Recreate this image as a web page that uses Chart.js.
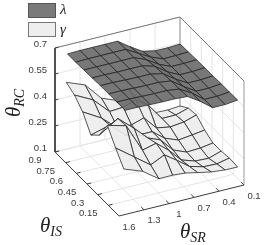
<!DOCTYPE html>
<html><head><meta charset="utf-8">
<style>html,body{margin:0;padding:0;background:#fff}canvas{display:block}</style>
<script src="https://cdn.jsdelivr.net/npm/chart.js@4"></script>
</head><body><canvas id="c" width="269" height="245"></canvas>
<script>
// data
const lambdaSR=[1.45,1.3,1.15,1.0,0.85,0.7,0.55,0.4,0.25,0.1];
const gammaSR=[1.465,1.24,1.045,0.88,0.73,0.58,0.415,0.25,0.1];
const thetaIS=[0.09,0.206,0.321,0.437,0.553,0.669,0.784,0.9];
const ticksSR=[1.6,1.3,1,0.7,0.4,0.1];
const ticksIS=[0.9,0.75,0.6,0.45,0.3,0.15];
const ticksRC=[0.7,0.55,0.4,0.25,0.1];
const lambda0=[.655,.655,.652,.65,.65,.645,.60,.545,.545,.553];
const lambda1=[.655,.655,.652,.65,.65,.64,.60,.545,.545,.552];
const lambda2=[.655,.655,.652,.65,.65,.64,.59,.545,.545,.552];
const lambda3=[.655,.655,.652,.65,.65,.635,.585,.545,.545,.55];
const lambda4=[.652,.652,.65,.65,.65,.63,.58,.545,.545,.55];
const lambda5=[.65,.65,.65,.65,.65,.62,.575,.545,.545,.548];
const lambda6=[.648,.65,.65,.65,.65,.61,.57,.542,.543,.546];
const lambda7=[.648,.65,.65,.65,.65,.60,.556,.541,.54,.544];
const gamma0=[.318,.278,.212,.213,.207,.192,.176,.168,.167];
const gamma1=[.392,.313,.244,.282,.233,.18,.158,.155,.171];
const gamma2=[.475,.446,.282,.302,.244,.17,.144,.14,.164];
const gamma3=[.371,.44,.36,.285,.256,.18,.148,.152,.163];
const gamma4=[.324,.354,.273,.256,.256,.2,.17,.18,.19];
const gamma5=[.41,.348,.267,.265,.288,.212,.198,.207,.23];
const gamma6=[.46,.405,.315,.32,.345,.296,.2,.2,.222];
const gamma7=[.486,.444,.345,.313,.365,.278,.184,.181,.187];
const lambdaRows=[lambda0,lambda1,lambda2,lambda3,lambda4,lambda5,lambda6,lambda7];
const gammaRows=[gamma0,gamma1,gamma2,gamma3,gamma4,gamma5,gamma6,gamma7];

// view (axes box projection)
const P=(sr,is,z)=>{const u=(1.6-sr)/1.5,v=is/0.9,w=(z-0.1)/0.6;
  return {x:119+125*u-64*v,y:216-31*u-64*v-104*w};};
const SRA=1.6,SRB=0.1,ISA=0,ISB=0.9,ZA=0.1,ZB=0.7;
const ds=[];
const line=(pts,color,width)=>ds.push({data:pts,showLine:true,fill:false,borderColor:color,borderWidth:width,pointRadius:0,tension:0});
const GRID='#e4e4e4',EDGE='#3c3c3c',BOX='#777';
// grid: floor + walls
ticksSR.forEach(s=>{line([P(s,ISA,ZA),P(s,ISB,ZA),P(s,ISB,ZB)],GRID,1);});
ticksIS.forEach(i=>{line([P(SRA,i,ZA),P(SRB,i,ZA),P(SRB,i,ZB)],GRID,1);});
ticksRC.forEach(z=>{line([P(SRA,ISB,z),P(SRB,ISB,z),P(SRB,ISA,z)],GRID,1);});
// box
line([P(SRA,ISB,ZB),P(SRB,ISB,ZB),P(SRB,ISA,ZB)],BOX,1);
line([P(SRB,ISB,ZA),P(SRB,ISB,ZB)],'#999',1);
line([P(SRB,ISA,ZA),P(SRB,ISA,ZB)],'#999',1);
// axes
line([P(SRA,ISB,ZB),P(SRA,ISB,ZA),P(SRA,ISA,ZA),P(SRB,ISA,ZA)],EDGE,1);
// ticks
ticksSR.forEach(s=>line([P(s,ISA,ZA),P(s,ISA+0.04,ZA)],EDGE,1));
ticksIS.forEach(i=>line([P(SRA,i,ZA),P(SRA-0.05,i,ZA)],EDGE,1));
ticksRC.forEach(z=>line([P(SRA,ISB,z),P(SRA-0.04,ISB,z)],EDGE,1));
// surfaces, back to front
const surf=(xs,rows,fill)=>{
  const q=[];
  for(let j=0;j<thetaIS.length-1;j++)for(let i=0;i<xs.length-1;i++)q.push([i,j]);
  q.sort((a,b)=>(b[0]+b[1])-(a[0]+a[1]));
  q.forEach(([i,j])=>{
    const pts=[[i,j],[i+1,j],[i+1,j+1],[i,j+1],[i,j]].map(([a,b])=>P(xs[a],thetaIS[b],rows[b][a]));
    ds.push({data:pts,showLine:true,fill:'shape',backgroundColor:fill,borderColor:'rgba(35,35,35,0.85)',borderWidth:0.9,pointRadius:0,tension:0});
  });
};
surf(gammaSR,gammaRows,'rgba(236,236,236,0.9)');
surf(lambdaSR,lambdaRows,'rgba(105,105,105,0.9)');
ds.forEach((d,k)=>d.order=ds.length-k);

const labels={id:'labels',afterDraw(ch){
  const c=ch.ctx,X=ch.scales.x,Y=ch.scales.y;
  const px=p=>({x:X.getPixelForValue(p.x),y:Y.getPixelForValue(p.y)});
  c.save();
  c.fillStyle='#3a3a3a';c.font='9.5px "Liberation Sans"';c.textBaseline='middle';
  c.textAlign='right';
  ticksRC.forEach(z=>{const p=px(P(SRA,ISB,z));c.fillText(String(z),p.x-8,p.y-4);});
  c.textAlign='center';
  ticksIS.forEach(i=>{const p=px(P(SRA,i,ZA));c.fillText(String(i),p.x-20,p.y+8.5);});
  ticksSR.forEach(s=>{const p=px(P(s,ISA,ZA));c.fillText(String(s),p.x+10,p.y+11);});
  // legend
  c.lineWidth=1;
  c.fillStyle='#7a7a7a';c.strokeStyle='#555';c.fillRect(28.5,3.5,27,14);c.strokeRect(28.5,3.5,27,14);
  c.fillStyle='#eeeeee';c.strokeStyle='#777';c.fillRect(28.5,22.5,27,14);c.strokeRect(28.5,22.5,27,14);
  c.fillStyle='#222';c.textAlign='left';c.font='italic 15px "Liberation Serif"';
  c.fillText('λ',60,10);c.fillText('γ',60,30);
  // axis titles
  const title=(x,y,sub,rot)=>{c.save();c.translate(x,y);c.rotate(rot);c.textAlign='left';c.textBaseline='alphabetic';
    c.fillStyle='#222';c.font='italic 21px "Liberation Serif"';c.fillText('θ',0,0);
    const w=c.measureText('θ').width;c.font='italic 14px "Liberation Serif"';c.fillText(sub,w,4);c.restore();};
  title(20,117,'RC',-Math.PI/2);
  title(40,232,'IS',0);
  title(180,238,'SR',0);
  c.restore();
}};
new Chart(document.getElementById('c'),{type:'scatter',data:{datasets:ds},plugins:[labels],options:{
  responsive:false,animation:false,layout:{padding:0},
  plugins:{legend:{display:false},tooltip:{enabled:false},filler:{propagate:false}},
  scales:{x:{type:'linear',min:0,max:269,display:false},y:{type:'linear',min:0,max:245,reverse:true,display:false}}
}});
</script></body></html>
